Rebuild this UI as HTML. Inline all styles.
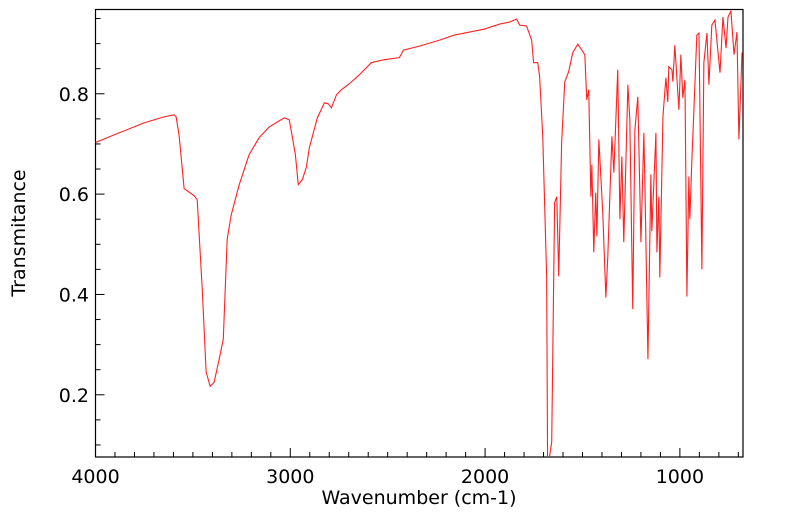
<!DOCTYPE html>
<html><head><meta charset="utf-8"><style>
html,body{margin:0;padding:0;background:#fff;}
svg{display:block;font-family:"DejaVu Sans","Liberation Sans",sans-serif;}
</style></head><body>
<svg id="chart" width="799" height="516">
<defs><clipPath id="clip"><rect x="95.5" y="9.5" width="647.5" height="447.5"/></clipPath></defs>
<rect x="95.5" y="9.5" width="647.5" height="447.5" fill="#fff" stroke="#000" stroke-width="1.2"/>
<g id="xticks"></g>
<g id="yticks"></g>
<path id="line" clip-path="url(#clip)" fill="none" stroke="#ff2020" stroke-width="1.1"/>
<text x="419" y="504" font-size="19" text-anchor="middle">Wavenumber (cm-1)</text>
<text transform="translate(25,233) rotate(-90)" font-size="19" text-anchor="middle">Transmitance</text>
</svg>
<script>
const wavenumbers=[4000,3879,3751,3648,3596,3586,3571,3545,3494,3478,3452,3432,3411,3391,3365,3344,3324,3303,3262,3211,3159,3108,3057,3031,3005,2974,2959,2938,2918,2902,2861,2825,2805,2789,2763,2738,2697,2645,2584,2517,2440,2419,2337,2234,2157,2080,2003,1925,1874,1838,1823,1787,1761,1751,1730,1720,1704,1684,1679,1658,1643,1632,1622,1607,1591,1571,1550,1524,1488,1478,1468,1457,1452,1442,1432,1426,1416,1396,1380,1370,1349,1339,1319,1308,1298,1288,1267,1257,1242,1231,1216,1200,1185,1180,1164,1149,1144,1123,1118,1108,1103,1087,1072,1062,1057,1041,1036,1026,1005,995,985,974,964,954,949,938,928,913,902,887,877,861,851,836,820,794,779,763,753,738,722,707,697,681];
const transmittance=[0.703,0.722,0.742,0.754,0.758,0.754,0.718,0.611,0.597,0.589,0.410,0.245,0.217,0.225,0.271,0.311,0.510,0.559,0.619,0.679,0.713,0.734,0.746,0.752,0.748,0.679,0.619,0.629,0.653,0.693,0.752,0.782,0.780,0.772,0.798,0.808,0.820,0.838,0.862,0.868,0.872,0.887,0.895,0.907,0.917,0.923,0.929,0.939,0.943,0.949,0.937,0.935,0.907,0.862,0.862,0.834,0.715,0.436,0.05,0.106,0.583,0.595,0.436,0.703,0.824,0.844,0.882,0.899,0.878,0.788,0.808,0.595,0.659,0.484,0.603,0.516,0.709,0.563,0.394,0.476,0.715,0.643,0.848,0.550,0.675,0.504,0.818,0.748,0.371,0.728,0.794,0.504,0.722,0.629,0.271,0.639,0.526,0.722,0.484,0.595,0.434,0.754,0.832,0.784,0.854,0.848,0.824,0.897,0.768,0.878,0.792,0.828,0.396,0.635,0.550,0.673,0.768,0.917,0.921,0.450,0.862,0.921,0.818,0.937,0.947,0.842,0.953,0.891,0.953,0.965,0.878,0.923,0.709,0.882];
const xTickLabels=[4000,3000,2000,1000];
const yTickLabels=[0.2,0.4,0.6,0.8];
const X0=95.5,X1=743,Y0=457,Y1=9.5,WN0=4000,WN1=676,T0=0.076,T1=0.968;
function xs(w){return X0+(WN0-w)/(WN0-WN1)*(X1-X0);}
function ys(t){return Y0-(t-T0)/(T1-T0)*(Y0-Y1);}
const NS="http://www.w3.org/2000/svg";
let d="";
for(let i=0;i<wavenumbers.length;i++){d+=(i?"L":"M")+xs(wavenumbers[i]).toFixed(2)+","+ys(transmittance[i]).toFixed(2);}
document.getElementById("line").setAttribute("d",d);
const xg=document.getElementById("xticks");
for(let w=4000;w>=700;w-=100){
  const major=w%1000===0;const x=xs(w);
  const l=document.createElementNS(NS,"line");
  l.setAttribute("x1",x);l.setAttribute("x2",x);l.setAttribute("y1",Y0);l.setAttribute("y2",Y0-(major?9:5));
  l.setAttribute("stroke","#000");
  
  
  xg.appendChild(l);
}
xTickLabels.forEach(w=>{
  const t=document.createElementNS(NS,"text");
  t.setAttribute("x",xs(w));t.setAttribute("y",483);t.setAttribute("font-size","19");t.setAttribute("text-anchor","middle");
  t.textContent=w;
  
  
  xg.appendChild(t);
});
const yg=document.getElementById("yticks");
for(let k=2;k<=19;k++){
  const v=k*0.05;if(v<T0||v>T1)continue;
  const major=k%4===0;const y=ys(v);
  const l=document.createElementNS(NS,"line");
  l.setAttribute("x1",X0);l.setAttribute("x2",X0+(major?9:5));l.setAttribute("y1",y);l.setAttribute("y2",y);
  l.setAttribute("stroke","#000");
  
  
  yg.appendChild(l);
}
yTickLabels.forEach(v=>{
  const t=document.createElementNS(NS,"text");
  t.setAttribute("x",89);t.setAttribute("y",ys(v)+7);t.setAttribute("font-size","19");t.setAttribute("text-anchor","end");
  t.textContent=v.toFixed(1);
  
  
  yg.appendChild(t);
});
</script>
</body></html>
